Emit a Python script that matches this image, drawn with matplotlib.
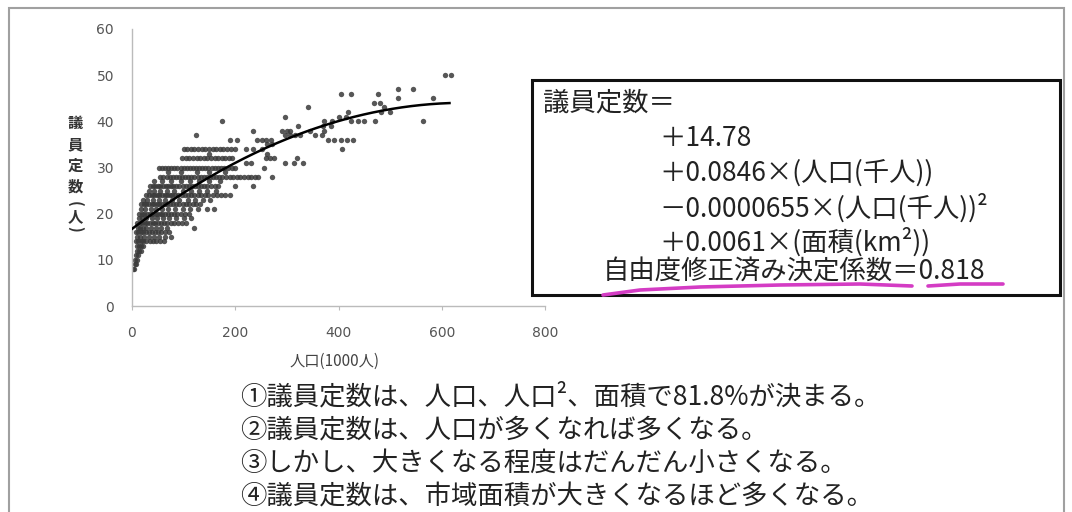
import matplotlib
matplotlib.use('Agg')
import matplotlib.pyplot as plt
from matplotlib.patches import Rectangle
from matplotlib.lines import Line2D
import numpy as np

plt.rcParams['font.family'] = ['Noto Sans CJK JP', 'DejaVu Sans']

# council seats (y) and the populations (1000 persons) of the cities with that seat count
seat_levels = [8, 9, 10, 11, 12, 13, 14, 15, 16, 17, 18, 19, 20, 21, 22, 23, 24, 25,
               26, 27, 28, 29, 30, 31, 32, 33, 34, 35, 36, 37, 38, 39, 40, 41, 42,
               43, 44, 45, 46, 47, 50]
pop_by_level = [
    [1, 4],
    [5, 8],
    [6, 9],
    [8, 11],
    [10, 14, 17],
    [9, 13, 18, 22],
    [7, 12, 17, 22, 28, 34, 40, 47, 55, 62],
    [10, 16, 24, 32, 42, 52, 64, 76],
    [7, 12, 17, 22, 27, 32, 38, 44, 50, 57, 64, 72],
    [11, 16, 21, 28, 36, 46, 56, 68, 121],
    [10, 15, 20, 25, 30, 35, 40, 45, 50, 56, 62, 68, 75, 82, 90, 97, 104],
    [14, 20, 28, 38, 48, 60, 72, 86, 100, 115],
    [14, 19, 24, 29, 34, 39, 44, 49, 54, 59, 64, 70, 76, 82, 88, 95, 103, 111],
    [18, 26, 36, 46, 58, 70, 84, 98, 112, 128, 145, 159],
    [18, 23, 28, 33, 38, 43, 48, 53, 58, 63, 68, 74, 80, 86, 92, 98, 104, 111, 118, 124, 131],
    [22, 30, 40, 52, 64, 78, 92, 108, 122, 138, 152],
    [28, 33, 38, 43, 48, 53, 58, 63, 68, 73, 78, 84, 90, 96, 102, 108, 114, 120, 127, 134,
     141, 148, 156, 164, 172, 181, 190],
    [32, 42, 54, 68, 82, 98, 114, 130, 146, 162],
    [35, 40, 45, 50, 55, 60, 65, 70, 75, 80, 86, 92, 98, 104, 110, 116, 122, 128, 134, 140,
     146, 153, 160, 166, 200, 235],
    [42, 58, 76, 94, 112, 130, 150, 170],
    [55, 61, 67, 73, 79, 85, 91, 97, 103, 109, 115, 121, 127, 133, 139, 145, 151, 157, 163,
     169, 175, 182, 189, 196, 203, 210, 217, 224, 231, 238, 245, 271],
    [70, 95, 125, 150, 180],
    [52, 58, 64, 70, 76, 82, 88, 94, 100, 106, 112, 118, 124, 130, 136, 142, 148, 154, 160,
     166, 172, 179, 186, 193, 200, 256],
    [220, 231, 297, 314, 331],
    [97, 104, 111, 118, 125, 132, 139, 146, 153, 160, 167, 174, 181, 188, 193, 259, 268, 276, 320],
    [150, 262],
    [100, 107, 114, 121, 128, 135, 142, 149, 156, 163, 170, 177, 184, 192, 200, 221, 235, 252, 407],
    [262, 272],
    [190, 204, 242, 251, 260, 269, 380, 392, 404, 416, 428],
    [124, 297, 306, 316, 325, 355, 368],
    [235, 290, 300, 307, 345, 372],
    [321, 370, 385],
    [174, 372, 388, 425, 437, 449, 470, 563],
    [297, 400, 415],
    [418, 482, 500],
    [340, 488],
    [468, 480],
    [515, 583],
    [404, 425, 476],
    [515, 545],
    [607, 617],
]

# fitted curve: intercept, linear, quadratic (population in 1000)
curve_coef = [16.7, 0.0846, -0.0000655]
curve_xmax = 615

x_ticks = [0, 200, 400, 600, 800]
y_ticks = [0, 10, 20, 30, 40, 50, 60]

box_lines = ['議員定数＝',
             '＋14.78',
             '＋0.0846×(人口(千人))',
             '－0.0000655×(人口(千人))²',
             '＋0.0061×(面積(km²))',
             '自由度修正済み決定係数＝0.818']

notes = ['①議員定数は、人口、人口²、面積で81.8%が決まる。',
         '②議員定数は、人口が多くなれば多くなる。',
         '③しかし、大きくなる程度はだんだん小さくなる。',
         '④議員定数は、市域面積が大きくなるほど多くなる。']

W, H = 1072, 512


def fx(px):
    return px / W


def fy(py):
    return 1 - py / H


pop = []
seats = []
for s, xs in zip(seat_levels, pop_by_level):
    pop += xs
    seats += [s] * len(xs)

fig = plt.figure(figsize=(W / 100, H / 100), dpi=100)
fig.patch.set_facecolor('white')

# outer slide frame
fig.add_artist(Rectangle((fx(9), fy(520)), fx(1064) - fx(9), fy(8) - fy(520),
                         transform=fig.transFigure, fill=False, ec='#a0a0a0', lw=1.5))

ax = fig.add_axes([fx(132), fy(306), fx(545) - fx(132), fy(29) - fy(306)])
ax.scatter(pop, seats, s=15, color='#3a3a3a', alpha=0.85, linewidths=0, zorder=2)

xc = np.linspace(0, curve_xmax, 200)
yc = curve_coef[0] + curve_coef[1] * xc + curve_coef[2] * xc ** 2
ax.plot(xc, yc, color='black', lw=1.8, zorder=3)

ax.set_xlim(0, 800)
ax.set_ylim(0, 60)
ax.set_xticks(x_ticks)
ax.set_yticks(y_ticks)
for sp in ['top', 'right']:
    ax.spines[sp].set_visible(False)
for sp in ['left', 'bottom']:
    ax.spines[sp].set_color('#bbbbbb')
    ax.spines[sp].set_linewidth(1)
ax.tick_params(axis='x', length=3, color='#bbbbbb', pad=11.5,
               labelsize=10, labelcolor='#555555')
ax.tick_params(axis='y', length=0, pad=13, labelsize=10, labelcolor='#555555')
for lab in ax.get_xticklabels() + ax.get_yticklabels():
    lab.set_family('DejaVu Sans')

# axis titles
fig.text(fx(335), fy(361), '人口(1000人)', ha='center', va='center',
         fontsize=11, color='#444444')
ylab_chars = ['議', '員', '定', '数', '(', '人', ')']
ylab_pos = [123, 144, 166, 187, 204, 216, 229]
for ch, py in zip(ylab_chars, ylab_pos):
    rot = -90 if ch in '()' else 0
    fig.text(fx(75), fy(py), ch, ha='center', va='center', fontsize=11,
             color='#333333', rotation=rot, fontweight='bold')

# formula box
fig.add_artist(Rectangle((fx(532), fy(295)), fx(1060) - fx(532), fy(80) - fy(295),
                         transform=fig.transFigure, fill=False, ec='#111111', lw=2.2))
box_x = [543, 659, 659, 659, 659, 603]
box_y = [103, 138, 173, 208, 242, 272]
for t, px, py in zip(box_lines, box_x, box_y):
    fig.text(fx(px), fy(py), t, ha='left', va='center', fontsize=19, color='#222222')

# hand-drawn highlight under the R2 line
u1x = [603, 640, 700, 780, 860, 912]
u1y = [295, 290, 287, 285, 284, 286]
u2x = [928, 960, 1003]
u2y = [286, 284, 284]
for ux, uy in [(u1x, u1y), (u2x, u2y)]:
    fig.add_artist(Line2D([fx(v) for v in ux], [fy(v) for v in uy],
                          transform=fig.transFigure, color='#d43cc4', lw=2.6,
                          solid_capstyle='round'))

# notes under the chart
note_y = [397, 430, 463, 497]
for t, py in zip(notes, note_y):
    fig.text(fx(240), fy(py), t, ha='left', va='center', fontsize=19, color='#222222')

fig.savefig('out.png', dpi=100)
